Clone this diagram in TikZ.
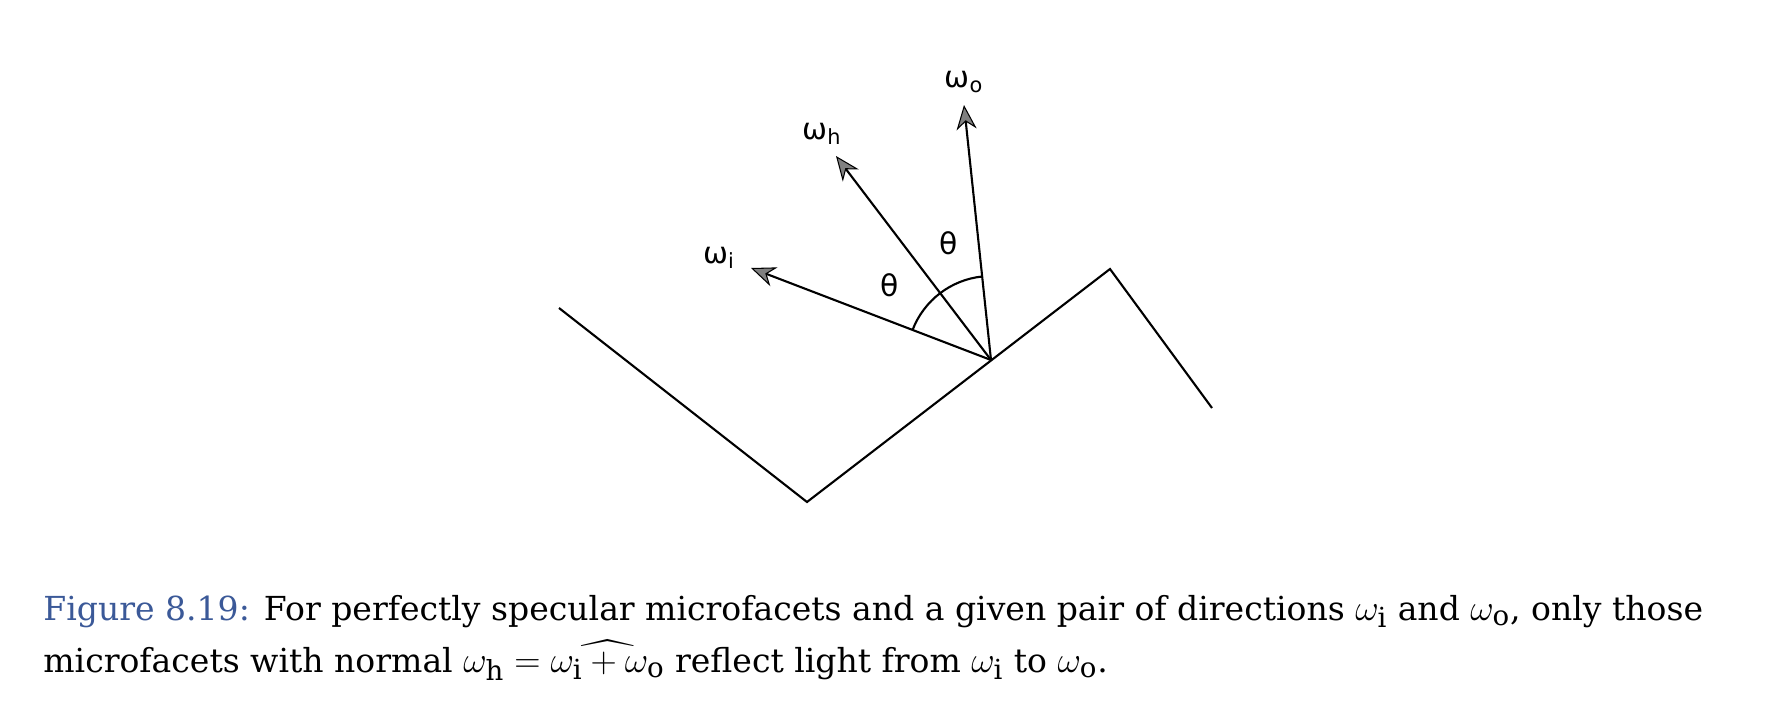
\documentclass[tikz,border=0pt]{standalone}
\usepackage{amsmath}
\usepackage{fontspec}
\setmainfont{DejaVu Serif}
\newfontfamily\labelfont{DejaVu Sans}
\usetikzlibrary{arrows.meta, positioning, calc}
\definecolor{figblue}{RGB}{59,89,152}
\definecolor{tipgray}{RGB}{128,128,128}
\newcommand{\capmath}[1]{{\fontsize{22.5}{26}\selectfont$#1$}}
\tikzset{
  facet/.style   = {draw, line width=1.2pt, line join=miter},
  ray/.style     = {draw, line width=1.2pt, -{Stealth[length=14pt, width=11.5pt, inset=4.5pt, fill=tipgray, line width=0.6pt]}},
  lbl/.style     = {font=\labelfont\fontsize{17}{20}\selectfont, inner sep=0pt},
  captext/.style = {font=\fontsize{18.85}{23}\selectfont, inner sep=0pt, anchor=base west}
}

\begin{document}
\begin{tikzpicture}[x=0.5702pt, y=-0.5702pt]
\useasboundingbox (0,0) rectangle (1788,712);

% surface
\coordinate (left)  at ( 559, 308);
\coordinate (low)   at ( 807, 502);
\coordinate (o)     at ( 991, 360);
\coordinate (peak)  at (1110, 269);
\coordinate (right) at (1212, 408);
\path [facet] (left) -- (low) -- (peak) -- (right);

% directions
\coordinate (wi) at (751, 268);
\coordinate (wh) at (836, 156);
\coordinate (wo) at (964, 105);
\path [ray] (o) -- (wi);
\path [ray] (o) -- (wh);
\path [ray] (o) -- (wo);

% angle
\path [draw, line width=1.2pt] ($(o)!47.9pt!(wi)$) arc [start angle=159, end angle=96, radius=47.9pt];

% labels
\node [lbl] at (719, 258) (lwi) {ω\textsubscript{i}};
\node [lbl] at (822, 134) (lwh) {ω\textsubscript{h}};
\node [lbl] at (964,  82) (lwo) {ω\textsubscript{o}};
\node [lbl] at (890, 285) (t1)  {θ};
\node [lbl] at (949, 243) (t2)  {θ};

% caption
\node [captext] at (43, 620) (cap1) {\textcolor{figblue}{Figure 8.19:} For perfectly specular microfacets and a given pair of directions \capmath{\omega_{\mathrm{i}}} and \capmath{\omega_{\mathrm{o}}}, only those};
\node [captext] at (43, 672) (cap2) {microfacets with normal \capmath{\omega_{\mathrm{h}} = \smash[t]{\widehat{\omega_{\mathrm{i}} + \omega_{\mathrm{o}}}}} reflect light from \capmath{\omega_{\mathrm{i}}} to \capmath{\omega_{\mathrm{o}}}.};

\end{tikzpicture}
\end{document}
